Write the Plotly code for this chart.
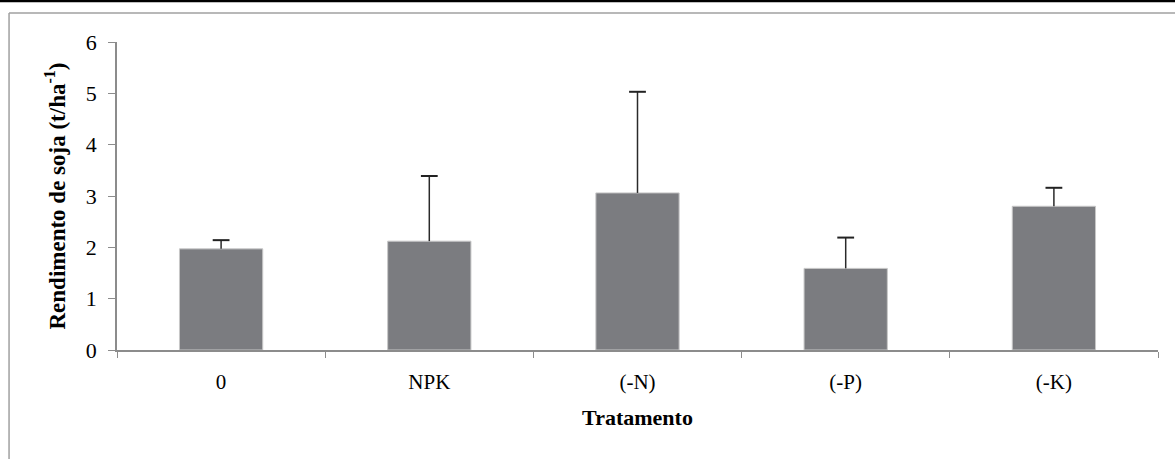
import plotly.graph_objects as go

categories = ["0", "NPK", "(-N)", "(-P)", "(-K)"]
rendimento = [1.97, 2.12, 3.06, 1.59, 2.80]
erro = [0.17, 1.27, 1.97, 0.60, 0.36]
y_ticks = [0, 1, 2, 3, 4, 5, 6]

font_family = "Liberation Serif"
axis_grey = "#8c8c8c"
topo = [r + e for r, e in zip(rendimento, erro)]

fig = go.Figure()
fig.add_trace(go.Bar(
    x=categories,
    y=rendimento,
    marker=dict(color="#7b7c80", line=dict(color="#c8c8c8", width=1)),
    error_y=dict(type="data", array=erro, symmetric=False, arrayminus=[0]*5,
                 color="#2a2a2a", thickness=1.5, width=0),
    width=0.4,
))
fig.add_trace(go.Scatter(
    x=categories, y=topo, mode="markers",
    marker=dict(symbol="line-ew-open", size=12, color="#222222",
                line=dict(color="#222222", width=2)),
    hoverinfo="skip",
))

fig.update_layout(
    width=1175, height=459,
    margin=dict(l=117, r=17, t=42, b=109),
    paper_bgcolor="white", plot_bgcolor="white",
    font=dict(family=font_family, size=21, color="black"),
    showlegend=False,
    xaxis=dict(
        showline=True, linecolor=axis_grey, linewidth=1.5,
        ticks="outside", ticklen=6, tickcolor=axis_grey, tickwidth=1,
        tickson="boundaries", ticklabelstandoff=12,
        tickfont=dict(size=21, family=font_family),
        title=dict(text="<b>Tratamento</b>", font=dict(size=22, family=font_family), standoff=17),
    ),
    yaxis=dict(
        range=[0, 6], tickvals=y_ticks,
        showline=True, linecolor=axis_grey, linewidth=1.5,
        ticks="outside", ticklen=7, tickcolor=axis_grey, tickwidth=1,
        showgrid=False, zeroline=False, ticklabelstandoff=7,
        tickfont=dict(size=22, family=font_family),
        title=dict(text="<b>Rendimento de soja (t/ha<sup>-1</sup>)</b>",
                   font=dict(size=23, family=font_family), standoff=14),
    ),
    shapes=[
        dict(type="line", xref="paper", yref="paper", x0=-0.1037, x1=-0.1037, y0=-0.5, y1=1.0942,
             line=dict(color="#a0a0a0", width=1.5)),
        dict(type="line", xref="paper", yref="paper", x0=-0.1037, x1=1.2, y0=1.0942, y1=1.0942,
             line=dict(color="#a0a0a0", width=1.5)),
        dict(type="line", xref="paper", yref="paper", x0=-0.2, x1=1.2, y0=1.133, y1=1.133,
             line=dict(color="black", width=2.5)),
    ],
)

fig.write_html("out.html", config={"displayModeBar": False},
               post_script="document.body.style.margin='0';")
